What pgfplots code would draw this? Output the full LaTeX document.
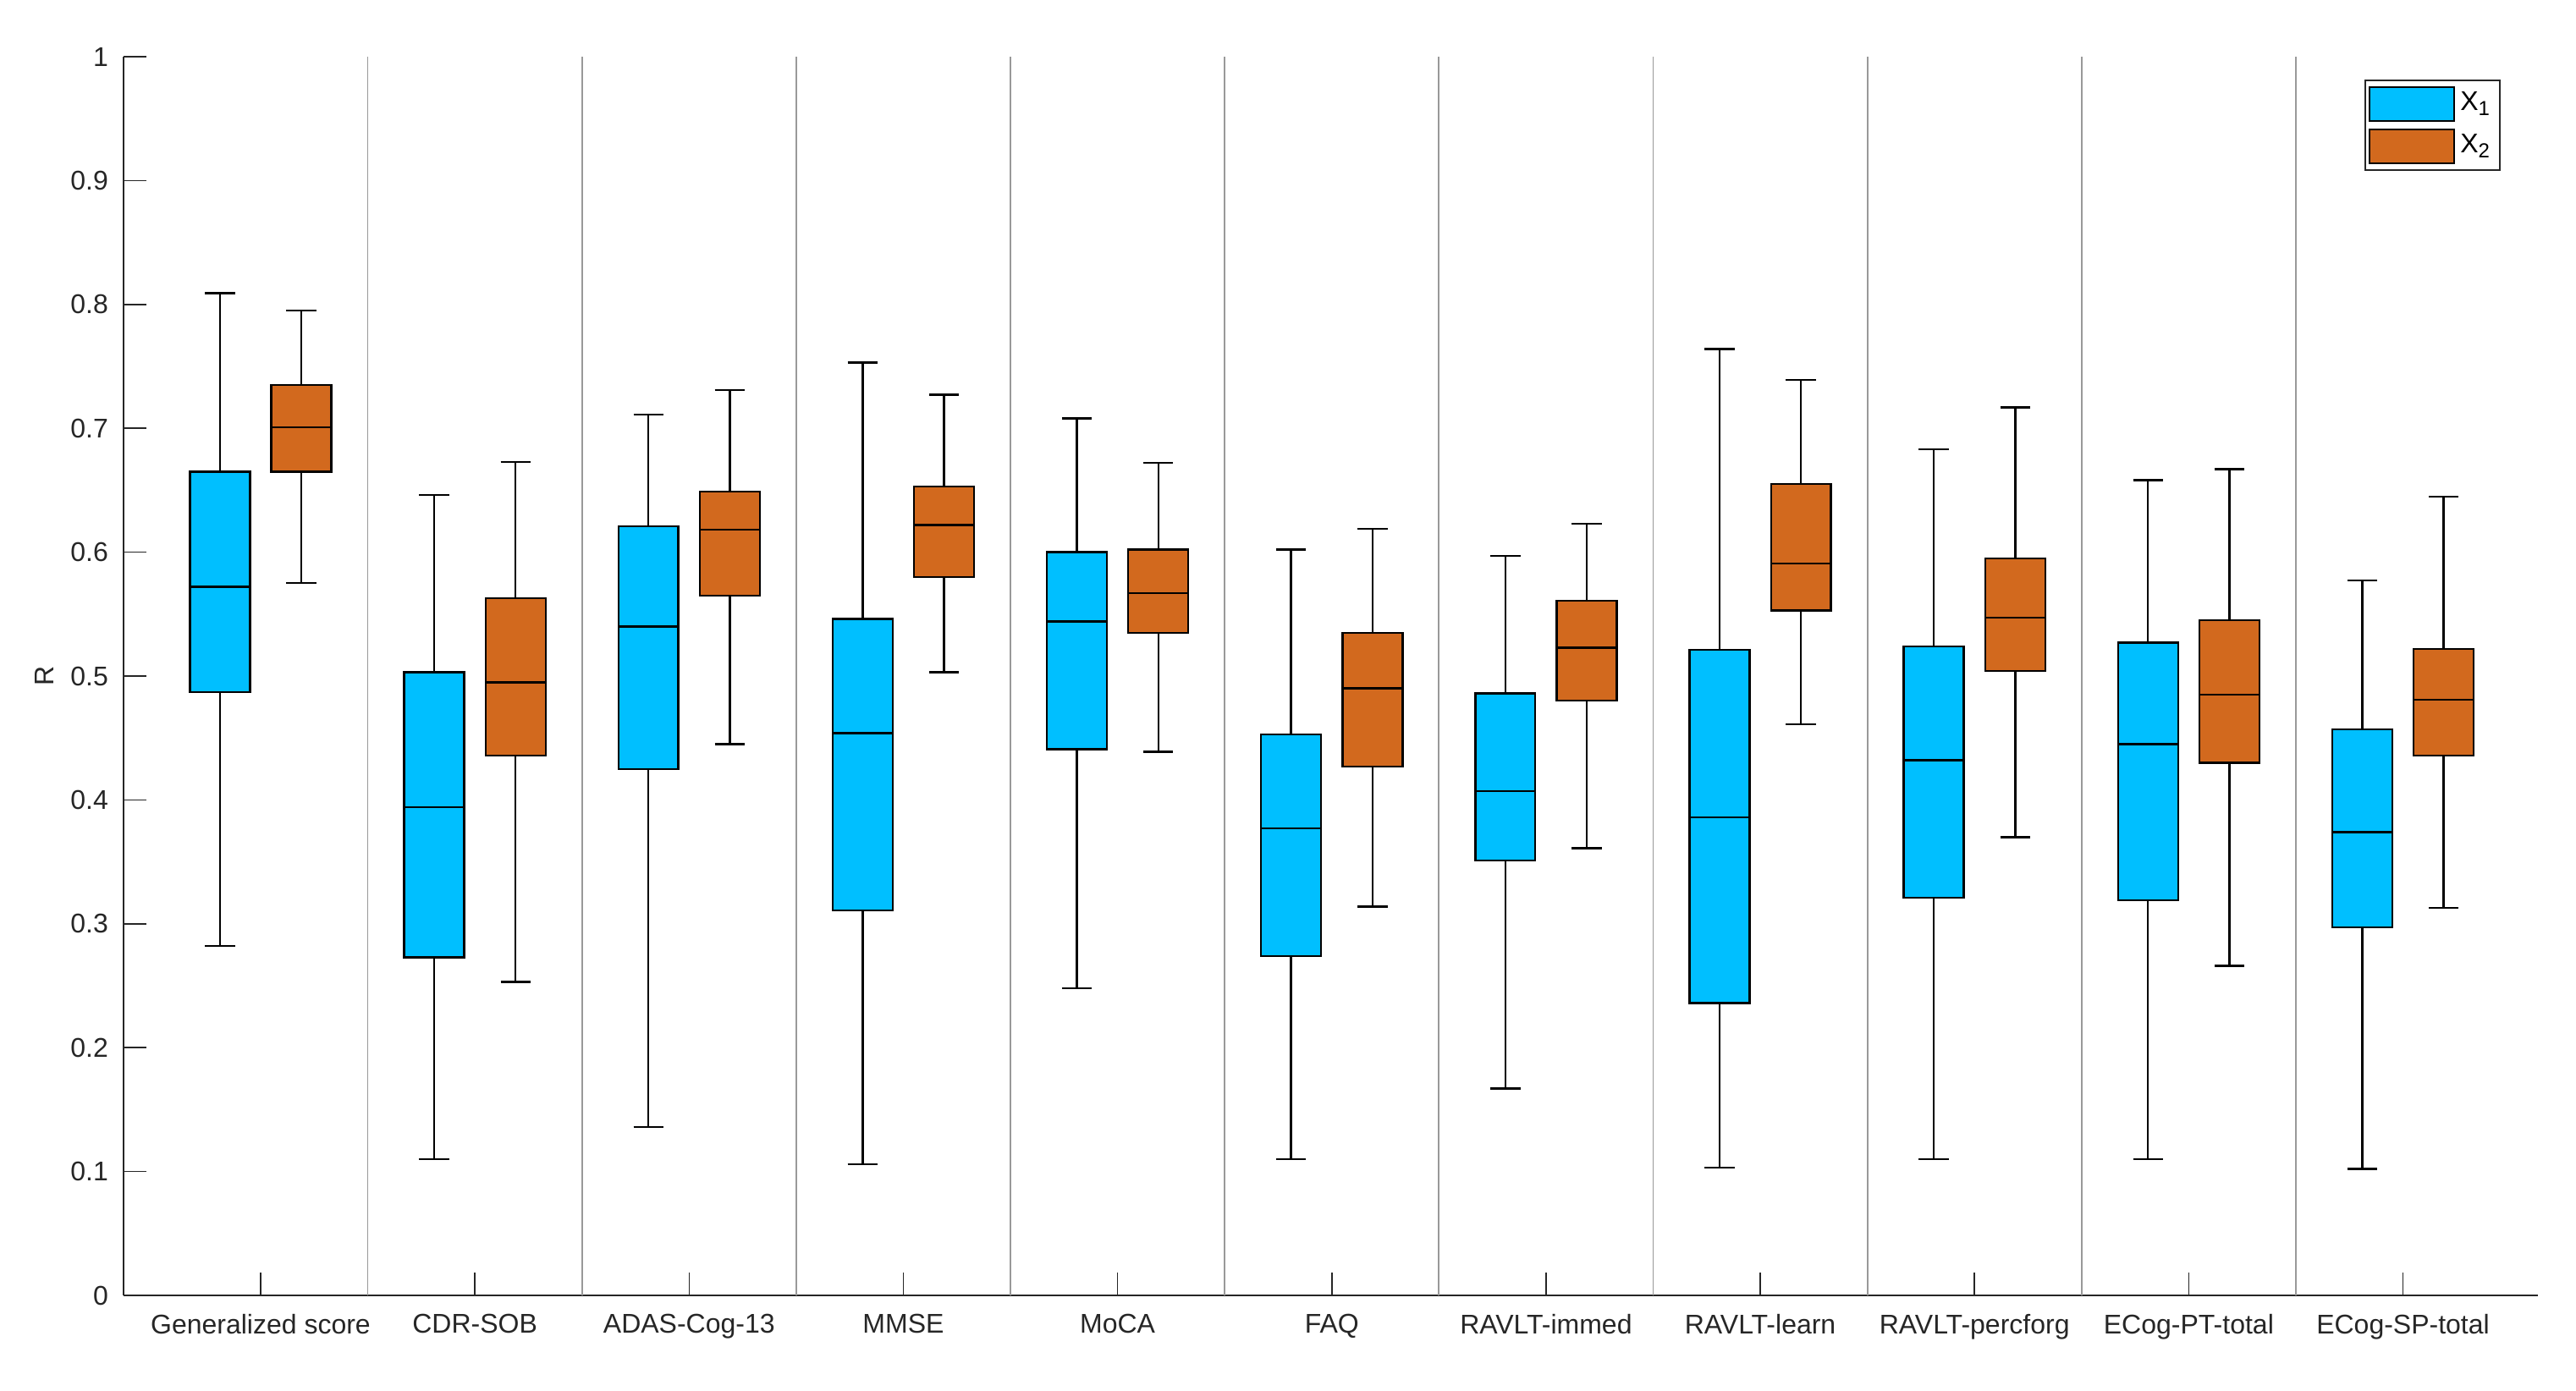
\documentclass[border=0pt]{standalone}
\usepackage{fontspec}
\setmainfont{Liberation Sans}
\usepackage{pgfplots}
\pgfplotsset{compat=1.18}
\usepgfplotslibrary{statistics}

\definecolor{xone}{RGB}{0,191,255}
\definecolor{xtwo}{RGB}{210,105,30}
\definecolor{axgray}{RGB}{38,38,38}

% #1 colour, #2 position, #3..#7 = lower whisker, Q1, median, Q3, upper whisker
\newcommand{\bx}[7]{%
  \addplot[forget plot, fill=#1, draw=black, line width=0.6pt,
    boxplot/draw direction=y,
    boxplot prepared={draw position=#2,
      lower whisker=#3, lower quartile=#4, median=#5,
      upper quartile=#6, upper whisker=#7,
      box extend=0.28, whisker extend=0.14}]
    coordinates {};}

\begin{document}
\begin{tikzpicture}
\begin{axis}[
  name=ax,
  scale only axis,
  width=713.25pt, height=366pt,
  xmin=0.36, xmax=11.63,
  ymin=0, ymax=1,
  axis lines*=left,
  axis line style={-, axgray, line width=0.5pt},
  tick align=inside,
  major tick length=6.75pt,
  tick style={axgray, line width=0.4pt},
  xtick={1,...,11},
  xticklabels={Generalized score,CDR-SOB,ADAS-Cog-13,MMSE,MoCA,FAQ,RAVLT-immed,RAVLT-learn,RAVLT-percforg,ECog-PT-total,ECog-SP-total},
  ytick={0,0.1,...,1},
  yticklabels={0,0.1,0.2,0.3,0.4,0.5,0.6,0.7,0.8,0.9,1},
  extra x ticks={1.5,2.5,...,10.5},
  extra x tick labels={},
  extra x tick style={grid=major, major tick length=0pt,
    major grid style={black!40, line width=0.45pt}},
  /pgf/number format/assume math mode=true,
  tick label style={font=\fontsize{8}{10}\selectfont, text=axgray},
  xticklabel style={yshift=-2pt},
  yticklabel style={xshift=-1pt},
  ylabel={R},
  ylabel style={at={(axis description cs:-0.024,0.5)}, anchor=south,
    font=\fontsize{8}{10}\selectfont, text=axgray},
  legend style={at={(0.9846,0.9816)}, anchor=north east, draw=axgray,
    line width=0.5pt, fill=white, inner xsep=1pt, inner ysep=1.5pt,
    row sep=1.5pt, font=\fontsize{8}{10}\selectfont, text=black,
    nodes={inner xsep=1.5pt}},
  legend cell align=left,
  legend image code/.code={\draw[#1, line width=0.7pt] (0pt,-5pt) rectangle (25pt,5pt);},
]
\addlegendimage{fill=xone, draw=black}
\addlegendentry{X\textsubscript{1}}
\addlegendimage{fill=xtwo, draw=black}
\addlegendentry{X\textsubscript{2}}

% Generalized score
\bx{xone}{0.81}{0.282}{0.487}{0.572}{0.665}{0.809}
\bx{xtwo}{1.19}{0.575}{0.665}{0.701}{0.735}{0.795}
% CDR-SOB
\bx{xone}{1.81}{0.110}{0.273}{0.394}{0.503}{0.646}
\bx{xtwo}{2.19}{0.253}{0.436}{0.495}{0.563}{0.673}
% ADAS-Cog-13
\bx{xone}{2.81}{0.136}{0.425}{0.540}{0.621}{0.711}
\bx{xtwo}{3.19}{0.445}{0.565}{0.618}{0.649}{0.731}
% MMSE
\bx{xone}{3.81}{0.106}{0.311}{0.454}{0.546}{0.753}
\bx{xtwo}{4.19}{0.503}{0.580}{0.622}{0.653}{0.727}
% MoCA
\bx{xone}{4.81}{0.248}{0.441}{0.544}{0.600}{0.708}
\bx{xtwo}{5.19}{0.439}{0.535}{0.567}{0.602}{0.672}
% FAQ
\bx{xone}{5.81}{0.110}{0.274}{0.377}{0.453}{0.602}
\bx{xtwo}{6.19}{0.314}{0.427}{0.490}{0.535}{0.619}
% RAVLT-immed
\bx{xone}{6.81}{0.167}{0.351}{0.407}{0.486}{0.597}
\bx{xtwo}{7.19}{0.361}{0.480}{0.523}{0.561}{0.623}
% RAVLT-learn
\bx{xone}{7.81}{0.103}{0.236}{0.386}{0.521}{0.764}
\bx{xtwo}{8.19}{0.461}{0.553}{0.591}{0.655}{0.739}
% RAVLT-percforg
\bx{xone}{8.81}{0.110}{0.321}{0.432}{0.524}{0.683}
\bx{xtwo}{9.19}{0.370}{0.504}{0.547}{0.595}{0.717}
% ECog-PT-total
\bx{xone}{9.81}{0.110}{0.319}{0.445}{0.527}{0.658}
\bx{xtwo}{10.19}{0.266}{0.430}{0.485}{0.545}{0.667}
% ECog-SP-total
\bx{xone}{10.81}{0.102}{0.297}{0.374}{0.457}{0.577}
\bx{xtwo}{11.19}{0.313}{0.436}{0.481}{0.522}{0.645}
\end{axis}
\path (ax.south west) ++(-36.5pt,-28pt) rectangle ++(761pt,410.75pt);
\end{tikzpicture}
\end{document}
